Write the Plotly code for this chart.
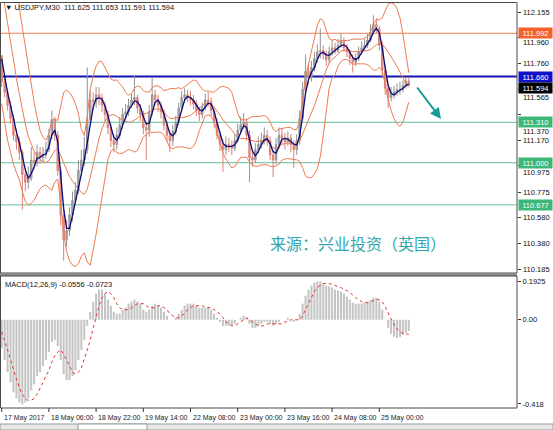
import pandas as pd
import plotly.graph_objects as go

W, H = 553, 430

# ---- price data (hourly bars, x = hours since 17 May 14:00) ----
warmup_close = [113.10, 113.05, 113.02, 112.98, 112.90, 112.80, 112.62, 112.45,
                112.28, 112.10, 111.95, 111.82]

close = [111.62, 111.54, 111.44, 111.34, 111.21, 111.16, 111.08, 110.91, 110.85, 110.88,
         111.02, 111.00, 111.08, 111.04, 111.06, 111.10, 111.21, 111.33, 111.21, 110.94,
         110.60, 110.41, 110.48, 110.60, 110.71, 110.79, 110.94, 111.02, 111.10, 111.33,
         111.48, 111.47, 111.52, 111.50, 111.44, 111.37, 111.27, 111.17, 111.14, 111.21,
         111.29, 111.37, 111.39, 111.44, 111.48, 111.50, 111.42, 111.37, 111.27, 111.25,
         111.39, 111.52, 111.48, 111.44, 111.39, 111.29, 111.21, 111.17, 111.24, 111.31,
         111.42, 111.50, 111.52, 111.50, 111.48, 111.45, 111.40, 111.37, 111.42, 111.48,
         111.47, 111.40, 111.31, 111.21, 111.14, 111.10, 111.14, 111.13, 111.11, 111.17,
         111.25, 111.29, 111.31, 111.21, 111.04, 111.02, 111.10, 111.14, 111.17, 111.21,
         111.17, 111.06, 111.02, 111.14, 111.21, 111.19, 111.16, 111.19, 111.14, 111.10,
         111.17, 111.34, 111.56, 111.70, 111.65, 111.73, 111.80, 111.85, 111.86, 111.83,
         111.79, 111.85, 111.88, 111.86, 111.90, 111.93, 111.88, 111.85, 111.80, 111.77,
         111.80, 111.85, 111.88, 111.90, 111.94, 112.00, 112.06, 112.03, 111.90, 111.71,
         111.57, 111.50, 111.52, 111.54, 111.56, 111.56, 111.59, 111.625, 111.594]

high = [111.82, 111.68, 111.57, 111.47, 111.37, 111.26, 111.20, 111.10, 110.96, 110.97,
        111.12, 111.08, 111.14, 111.12, 111.12, 111.16, 111.26, 111.40, 111.35, 111.24,
        110.97, 110.66, 110.56, 110.66, 110.78, 110.85, 111.02, 111.10, 111.20, 111.73,
        111.55, 111.54, 111.58, 111.58, 111.53, 111.47, 111.40, 111.30, 111.22, 111.27,
        111.35, 111.42, 111.45, 111.49, 111.53, 111.67, 111.52, 111.45, 111.40, 111.31,
        111.44, 111.65, 111.56, 111.52, 111.47, 111.41, 111.32, 111.25, 111.29, 111.36,
        111.46, 111.55, 111.57, 111.56, 111.55, 111.52, 111.48, 111.43, 111.46, 111.53,
        111.54, 111.50, 111.43, 111.34, 111.24, 111.18, 111.20, 111.19, 111.17, 111.22,
        111.30, 111.35, 111.38, 111.34, 111.25, 111.10, 111.15, 111.20, 111.23, 111.27,
        111.25, 111.20, 111.10, 111.19, 111.27, 111.26, 111.23, 111.24, 111.22, 111.17,
        111.22, 111.40, 111.62, 111.83, 111.76, 111.78, 111.85, 111.91, 112.03, 111.90,
        111.86, 111.89, 111.94, 111.92, 111.95, 111.99, 111.96, 111.91, 111.87, 111.83,
        111.84, 111.89, 111.93, 111.95, 111.99, 112.06, 112.13, 112.11, 112.05, 111.93,
        111.75, 111.60, 111.58, 111.59, 111.61, 111.62, 111.63, 111.65, 111.653]

low = [111.58, 111.50, 111.40, 111.30, 111.17, 111.10, 111.02, 110.64, 110.78, 110.80,
       110.86, 110.95, 110.97, 110.99, 111.00, 111.03, 111.08, 111.18, 111.17, 110.90,
       110.52, 110.25, 110.36, 110.44, 110.55, 110.68, 110.76, 110.90, 110.98, 111.07,
       111.30, 111.40, 111.42, 111.44, 111.39, 111.32, 111.22, 111.12, 111.08, 111.10,
       111.18, 111.26, 111.33, 111.36, 111.42, 111.44, 111.38, 111.32, 111.22, 111.02,
       111.20, 111.36, 111.44, 111.39, 111.34, 111.25, 111.16, 111.08, 111.13, 111.21,
       111.29, 111.40, 111.46, 111.46, 111.44, 111.41, 111.36, 111.32, 111.34, 111.40,
       111.43, 111.36, 111.27, 111.18, 111.09, 110.93, 111.06, 111.08, 111.06, 111.09,
       111.15, 111.22, 111.26, 111.17, 110.85, 110.97, 111.00, 111.07, 111.11, 111.14,
       111.13, 111.02, 110.89, 110.99, 111.11, 111.14, 111.10, 111.13, 111.08, 110.96,
       111.06, 111.14, 111.32, 111.52, 111.60, 111.62, 111.70, 111.77, 111.80, 111.79,
       111.74, 111.76, 111.82, 111.83, 111.84, 111.88, 111.85, 111.81, 111.75, 111.69,
       111.74, 111.78, 111.83, 111.86, 111.88, 111.92, 111.98, 111.99, 111.86, 111.66,
       111.52, 111.42, 111.47, 111.49, 111.51, 111.52, 111.54, 111.57, 111.591]

# ---- MACD(12,26,9): main (histogram) and signal ----
macd_main = [-0.14, -0.20, -0.26, -0.31, -0.36, -0.39, -0.41, -0.42, -0.41, -0.39,
             -0.35, -0.32, -0.28, -0.26, -0.23, -0.20, -0.16, -0.11, -0.10, -0.13,
             -0.20, -0.27, -0.30, -0.30, -0.28, -0.25, -0.20, -0.15, -0.10, -0.03,
             0.04, 0.09, 0.13, 0.15, 0.15, 0.13, 0.10, 0.07, 0.04, 0.03,
             0.03, 0.05, 0.06, 0.08, 0.09, 0.10, 0.09, 0.08, 0.05, 0.04,
             0.05, 0.07, 0.08, 0.07, 0.06, 0.04, 0.02, 0.00, 0.00, 0.01,
             0.03, 0.05, 0.07, 0.08, 0.08, 0.08, 0.07, 0.06, 0.06, 0.06,
             0.06, 0.05, 0.03, 0.01, -0.01, -0.03, -0.03, -0.03, -0.03, -0.02,
             0.00, 0.01, 0.02, 0.01, -0.02, -0.04, -0.04, -0.03, -0.02, -0.01,
             -0.01, -0.02, -0.03, -0.02, -0.01, 0.00, 0.00, 0.01, 0.00, -0.01,
             0.00, 0.03, 0.08, 0.12, 0.15, 0.17, 0.185, 0.19, 0.19, 0.18,
             0.17, 0.165, 0.16, 0.15, 0.145, 0.14, 0.13, 0.115, 0.10, 0.085,
             0.08, 0.08, 0.08, 0.085, 0.09, 0.10, 0.11, 0.11, 0.09, 0.05,
             0.00, -0.04, -0.07, -0.085, -0.09, -0.085, -0.075, -0.065, -0.0556]

macd_signal = [-0.06, -0.10, -0.15, -0.20, -0.25, -0.30, -0.34, -0.37, -0.39, -0.40,
               -0.40, -0.39, -0.37, -0.34, -0.31, -0.28, -0.25, -0.21, -0.18, -0.16,
               -0.15, -0.17, -0.20, -0.23, -0.26, -0.27, -0.26, -0.24, -0.20, -0.15,
               -0.10, -0.04, 0.02, 0.07, 0.11, 0.13, 0.14, 0.13, 0.11, 0.08,
               0.06, 0.05, 0.05, 0.05, 0.06, 0.07, 0.08, 0.08, 0.08, 0.07,
               0.06, 0.06, 0.06, 0.07, 0.07, 0.06, 0.05, 0.03, 0.02, 0.01,
               0.01, 0.02, 0.03, 0.05, 0.06, 0.07, 0.07, 0.07, 0.07, 0.06,
               0.06, 0.06, 0.05, 0.04, 0.03, 0.01, -0.01, -0.02, -0.03, -0.03,
               -0.02, -0.01, 0.00, 0.01, 0.00, -0.01, -0.02, -0.03, -0.03, -0.03,
               -0.02, -0.02, -0.02, -0.02, -0.02, -0.02, -0.01, -0.01, 0.00, 0.00,
               0.00, 0.00, 0.02, 0.05, 0.08, 0.11, 0.14, 0.16, 0.17, 0.18,
               0.18, 0.18, 0.175, 0.17, 0.165, 0.16, 0.15, 0.145, 0.135, 0.12,
               0.11, 0.10, 0.09, 0.085, 0.085, 0.09, 0.095, 0.10, 0.10, 0.09,
               0.065, 0.035, 0.005, -0.025, -0.045, -0.06, -0.068, -0.071, -0.0723]

time_ticks = [0, 16, 32, 48, 64, 80, 96, 112, 128]
time_labels = ["17 May 2017", "18 May 06:00", "18 May 22:00", "19 May 14:00",
               "22 May 08:00", "23 May 00:00", "23 May 16:00", "24 May 08:00",
               "25 May 00:00"]

price_ticks = [112.155, 111.960, 111.760, 111.565, 111.370, 111.170,
               110.975, 110.775, 110.580, 110.380, 110.185]

level_prices = [111.992, 111.660, 111.310, 111.000, 110.677]
level_colors = ["#ef7f55", "#1414b4", "#62bf98", "#62bf98", "#62bf98"]
level_widths = [1, 2, 1, 1, 1]
level_tags = ["#f2622a", "#1010c8", "#3cb777", "#3cb777", "#3cb777"]

last_price = close[-1]

# ---- indicators ----
x = list(range(len(close)))
all_close = pd.Series(warmup_close + close)
n_warm = len(warmup_close)
mid = all_close.rolling(10).mean()
sd = all_close.rolling(10).std(ddof=0)
bb_up = (mid + 2 * sd).iloc[n_warm:].tolist()
bb_lo = (mid - 2 * sd).iloc[n_warm:].tolist()
bb_mid = mid.iloc[n_warm:].tolist()
ma_fast = all_close.rolling(3).mean().iloc[n_warm:].tolist()
opens = [warmup_close[-1]] + close[:-1]

# ---- pixel helpers ----
def px(v):
    return v / W


def py(v):
    return 1 - v / H


PLOT_R = 517
MAIN_TOP, MAIN_BOT = 3, 273
Y_RANGE = [110.155, 112.224]
x_range = [-1.7 / 2.95, (PLOT_R - 1.7) / 2.95]


def price_to_px(p):
    return MAIN_TOP + (Y_RANGE[1] - p) / (Y_RANGE[1] - Y_RANGE[0]) * (MAIN_BOT - MAIN_TOP)


fig = go.Figure()

for band in (bb_up, bb_mid, bb_lo):
    fig.add_trace(go.Scatter(x=x, y=band, mode="lines",
                             line=dict(color="#ee7a52", width=1),
                             xaxis="x", yaxis="y", hoverinfo="skip"))

fig.add_trace(go.Candlestick(
    x=x, open=opens, high=high, low=low, close=close,
    increasing=dict(line=dict(color="#939393", width=1), fillcolor="#b0b0b0"),
    decreasing=dict(line=dict(color="#dc8076", width=1), fillcolor="#e69e95"),
    whiskerwidth=0, xaxis="x", yaxis="y"))

fig.add_trace(go.Scatter(x=x, y=ma_fast, mode="lines",
                         line=dict(color="#0a0a78", width=1.3),
                         xaxis="x", yaxis="y", hoverinfo="skip"))

fig.add_trace(go.Bar(x=x, y=macd_main, marker=dict(color="#c4c4c4", line=dict(width=0)),
                     xaxis="x2", yaxis="y2"))
fig.add_trace(go.Scatter(x=x, y=macd_signal, mode="lines",
                         line=dict(color="#e4322c", width=1, dash="dot"),
                         xaxis="x2", yaxis="y2", hoverinfo="skip"))

shapes = []
# horizontal levels
for p, c, w in zip(level_prices, level_colors, level_widths):
    shapes.append(dict(type="line", xref="paper", yref="y", x0=0, x1=px(PLOT_R),
                       y0=p, y1=p, line=dict(color=c, width=w), layer="below"))
# panel frames
shapes.append(dict(type="rect", xref="paper", yref="paper", x0=px(0.5), x1=px(PLOT_R),
                   y0=py(MAIN_BOT), y1=py(2.5), line=dict(color="#4a4a4a", width=1)))
shapes.append(dict(type="rect", xref="paper", yref="paper", x0=0, x1=px(PLOT_R),
                   y0=py(276), y1=py(MAIN_BOT), fillcolor="#8a8a8a", line=dict(width=0)))
shapes.append(dict(type="rect", xref="paper", yref="paper", x0=px(0.5), x1=px(PLOT_R),
                   y0=py(408), y1=py(276), line=dict(color="#4a4a4a", width=1)))
# time tick marks
for t in time_ticks:
    shapes.append(dict(type="line", xref="x2", yref="paper", x0=t, x1=t,
                       y0=py(408), y1=py(412), line=dict(color="#333333", width=1)))
# bottom tab strip
shapes.append(dict(type="rect", xref="paper", yref="paper", x0=0, x1=1,
                   y0=0, y1=py(424), fillcolor="#e8e8e8", line=dict(color="#9a9a9a", width=1)))
shapes.append(dict(type="rect", xref="paper", yref="paper", x0=px(78), x1=px(147),
                   y0=0, y1=py(424), fillcolor="#ffffff", line=dict(color="#9a9a9a", width=1)))

annotations = []
base_font = "Liberation Sans"
axis_font = dict(family=base_font, size=7.5, color="#111111")
TAG_H = 10

# header
annotations.append(dict(xref="paper", yref="paper", x=px(3), y=py(8), xanchor="left",
                        yanchor="middle", showarrow=False,
                        text="▼ USDJPY,M30  111.625 111.653 111.591 111.594",
                        font=dict(family=base_font, size=7.5, color="#111111")))
annotations.append(dict(xref="paper", yref="paper", x=px(3), y=py(284), xanchor="left",
                        yanchor="middle", showarrow=False,
                        text="MACD(12,26,9) -0.0556 -0.0723",
                        font=dict(family=base_font, size=7.5, color="#111111")))

# price tags on the axis (pixel centre of each tag)
tag_items = [(p, c, price_to_px(p)) for p, c in zip(level_prices, level_tags)]
tag_items.append((last_price, "#000000", price_to_px(last_price) + 2.5))
for p, c, cy in tag_items:
    annotations.append(dict(xref="paper", yref="paper", x=px(518), y=py(cy),
                            xanchor="left", yanchor="middle", showarrow=False,
                            text=f"{p:.3f}", bgcolor=c, width=33, height=TAG_H,
                            borderpad=0,
                            font=dict(family=base_font, size=7.5, color="white")))

# price scale labels; a label partly covered by a tag sits just under it
for v in price_ticks:
    cy = price_to_px(v)
    for _, _, ty in tag_items:
        if abs(cy - ty) < TAG_H / 2 + 4.5:
            cy = ty + TAG_H / 2 + 4.5
    annotations.append(dict(xref="paper", yref="paper", x=px(521), y=py(cy),
                            xanchor="left", yanchor="middle", showarrow=False,
                            text=f"{v:.3f}", font=axis_font))

# time labels
for t, lab in zip(time_ticks, time_labels):
    annotations.append(dict(xref="x2", yref="paper", x=t, y=py(418), xanchor="left",
                            yanchor="middle", showarrow=False, text=lab,
                            font=dict(family=base_font, size=7, color="#222222")))
# source caption
annotations.append(dict(xref="paper", yref="paper", x=px(268), y=py(243), xanchor="left",
                        yanchor="middle", showarrow=False, text="来源：兴业投资（英国）",
                        font=dict(family="Noto Sans CJK SC", size=16, color="#35a6b0")))
# direction arrow
annotations.append(dict(xref="paper", yref="paper", x=px(441), y=py(119),
                        ax=-25, ay=-33, axref="pixel", ayref="pixel", text="",
                        showarrow=True, arrowhead=2, arrowsize=1.1, arrowwidth=2,
                        arrowcolor="#169c96"))

fig.update_layout(
    width=W, height=H, margin=dict(l=0, r=0, t=0, b=0),
    paper_bgcolor="white", plot_bgcolor="white", showlegend=False,
    bargap=0.3,
    xaxis=dict(domain=[0, px(PLOT_R)], range=x_range, anchor="y",
               showticklabels=False, showgrid=False, zeroline=False,
               rangeslider=dict(visible=False), fixedrange=True),
    yaxis=dict(domain=[py(MAIN_BOT), py(MAIN_TOP)], range=Y_RANGE, side="right",
               anchor="x", tickvals=price_ticks, showticklabels=False,
               ticks="outside", ticklen=3, tickcolor="#333333",
               showgrid=False, zeroline=False, fixedrange=True),
    xaxis2=dict(domain=[0, px(PLOT_R)], range=x_range, anchor="y2",
                showticklabels=False, showgrid=False, zeroline=False, fixedrange=True),
    yaxis2=dict(domain=[py(408), py(276)], range=[-0.4379, 0.2173], side="right",
                anchor="x2", tickvals=[0.1925, 0.0, -0.418],
                ticktext=["0.1925", "0.00", "-0.418"], ticks="outside", ticklen=3,
                tickcolor="#333333", tickfont=axis_font,
                showgrid=False, zeroline=False, fixedrange=True),
    shapes=shapes, annotations=annotations,
)

fig.write_html("out.html")
